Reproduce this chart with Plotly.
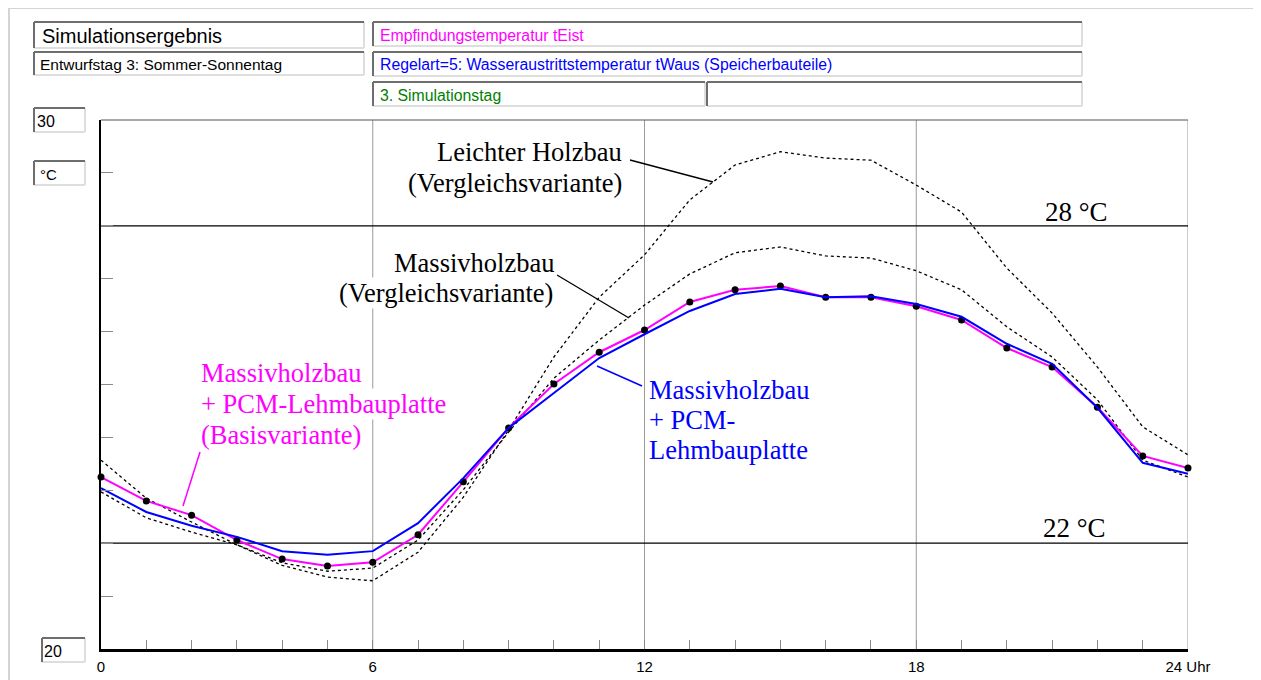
import plotly.graph_objects as go

# ---------------- data ----------------
hours = list(range(25))
x_tick_labels = ["0", "", "", "", "", "", "6", "", "", "", "", "", "12",
                 "", "", "", "", "", "18", "", "", "", "", "", "24 Uhr"]

# Massivholzbau + PCM-Lehmbauplatte (Basisvariante) - magenta with dots
pcm_basis = [23.25, 22.80, 22.53, 22.06, 21.70, 21.57, 21.64, 22.16, 23.16, 24.18,
             25.01, 25.61, 26.03, 26.56, 26.79, 26.86, 26.65, 26.65, 26.48, 26.22,
             25.69, 25.33, 24.57, 23.65, 23.42]
# Massivholzbau + PCM-Lehmbauplatte - blue
pcm_blue = [23.04, 22.59, 22.33, 22.12, 21.85, 21.78, 21.85, 22.38, 23.23, 24.18,
            24.84, 25.50, 25.95, 26.39, 26.71, 26.81, 26.65, 26.67, 26.52, 26.28,
            25.77, 25.39, 24.56, 23.52, 23.31]
# Massivholzbau (Vergleichsvariante) - dotted
massiv_vgl = [22.97, 22.48, 22.21, 21.97, 21.63, 21.47, 21.53, 22.06, 23.01, 24.10,
              25.12, 25.84, 26.50, 27.09, 27.49, 27.60, 27.43, 27.39, 27.15, 26.79,
              26.09, 25.52, 24.71, 23.57, 23.25]
# Leichter Holzbau (Vergleichsvariante) - dotted
leicht_vgl = [23.57, 22.85, 22.40, 21.97, 21.58, 21.36, 21.29, 21.83, 22.87, 24.14,
              25.52, 26.65, 27.45, 28.49, 29.15, 29.40, 29.28, 29.24, 28.77, 28.26,
              27.20, 26.35, 25.33, 24.20, 23.67]

limit_values = [22, 28]
grid_hours = [6, 12, 18, 24]

# ---------------- geometry helpers (pixel -> paper) ----------------
OFF = 8                      # default page body margin
W, H = 1261 - OFF, 680 - OFF
PX_L, PX_R, PY_T, PY_B = 101, 1188, 120, 649


def px(x):
    return (x - PX_L) / (PX_R - PX_L)


def py(y):
    return (PY_B - y) / (PY_B - PY_T)


shapes = []
annotations = []


def pline(x0, y0, x1, y1, color, width, layer="above"):
    shapes.append(dict(type="line", xref="paper", yref="paper",
                       x0=px(x0), y0=py(y0), x1=px(x1), y1=py(y1),
                       line=dict(color=color, width=width), layer=layer))


def sunken_box(x0, y0, x1, y1, text="", color="black", size=14, tx=None):
    shapes.append(dict(type="rect", xref="paper", yref="paper",
                       x0=px(x0), y0=py(y0), x1=px(x1), y1=py(y1),
                       fillcolor="white", line=dict(width=0), layer="above"))
    pline(x0, y1, x1, y1, "#dedede", 2)
    pline(x1, y0, x1, y1, "#dedede", 2)
    pline(x0, y0, x1, y0, "#6e6e6e", 2)
    pline(x0, y0, x0, y1, "#6e6e6e", 2)
    if text:
        annotations.append(dict(xref="paper", yref="paper",
                                x=px(tx if tx is not None else x0 + 6),
                                y=py((y0 + y1) / 2 + 1), text=text,
                                showarrow=False, xanchor="left", yanchor="middle",
                                font=dict(family="Liberation Sans, Arial", size=size,
                                          color=color)))


# outer light frame
shapes.append(dict(type="rect", xref="paper", yref="paper",
                   x0=px(9), y0=py(8), x1=px(1256), y1=py(700),
                   line=dict(color="#d4d4d4", width=2), layer="below"))

# vertical gridlines
for g in grid_hours:
    shapes.append(dict(type="line", xref="x", yref="paper", x0=g, x1=g, y0=0, y1=1,
                       line=dict(color="#9a9a9a", width=1), layer="below"))
# top border
shapes.append(dict(type="line", xref="paper", yref="paper", x0=0, x1=1, y0=1, y1=1,
                   line=dict(color="#555555", width=1), layer="below"))
# limit lines
for v in limit_values:
    shapes.append(dict(type="line", xref="paper", yref="y", x0=0, x1=1, y0=v, y1=v,
                       line=dict(color="black", width=1.3), layer="below"))

# header boxes
HS = 15.8
sunken_box(34, 22, 364, 48, "Simulationsergebnis", "black", 20, tx=40)
sunken_box(34, 52, 364, 75, "Entwurfstag 3: Sommer-Sonnentag", "black", 15.5, tx=38)
sunken_box(373, 22, 1082, 46, "Empfindungstemperatur tEist", "#ff00ff", HS, tx=378)
sunken_box(373, 52, 1082, 76, "Regelart=5: Wasseraustrittstemperatur tWaus (Speicherbauteile)",
           "#0000ff", HS, tx=378)
sunken_box(373, 82, 705, 106, "3. Simulationstag", "#008000", HS, tx=378)
sunken_box(707, 82, 1082, 106)
sunken_box(34, 108, 85, 132, "30", "black", 16, tx=35)
sunken_box(34, 161, 85, 185, "°C", "black", 15, tx=38)
sunken_box(42, 638, 85, 662, "20", "black", 16, tx=42)

# chart text annotations (serif), one per line
SERIF = "Liberation Serif, Times New Roman, serif"
FS = 26.5


def label(text, x, y, anchor, color, size=FS):
    annotations.append(dict(xref="paper", yref="paper", x=px(x), y=py(y), text=text,
                            showarrow=False, xanchor=anchor, yanchor="middle",
                            bgcolor="white", borderpad=0,
                            font=dict(family=SERIF, size=size, color=color)))


label("Leichter Holzbau", 623, 152, "right", "black")
label("(Vergleichsvariante)", 623, 183, "right", "black")
label("Massivholzbau", 555, 263, "right", "black")
label("(Vergleichsvariante)", 554, 293, "right", "black")
label("Massivholzbau", 200, 373, "left", "#ff00ff")
label("+ PCM-Lehmbauplatte", 200, 404, "left", "#ff00ff")
label("(Basisvariante)", 200, 435, "left", "#ff00ff")
label("Massivholzbau", 648, 390, "left", "#0000ff")
label("+ PCM-", 648, 420, "left", "#0000ff")
label("Lehmbauplatte", 648, 450, "left", "#0000ff")
annotations.append(dict(xref="paper", yref="paper", x=px(1076), y=py(212), text="28 °C",
                        showarrow=False, xanchor="center", yanchor="middle",
                        font=dict(family=SERIF, size=27, color="black")))
annotations.append(dict(xref="paper", yref="paper", x=px(1074), y=py(528), text="22 °C",
                        showarrow=False, xanchor="center", yanchor="middle",
                        font=dict(family=SERIF, size=27, color="black")))

# pointer lines
pline(630, 160, 713, 182, "black", 1.3)
pline(557, 275, 629, 318, "black", 1.3)
pline(200, 452, 183, 506, "#ff00ff", 1.5)
pline(642, 386, 597, 366, "#0000ff", 1.5)

fig = go.Figure()
fig.add_trace(go.Scatter(x=hours, y=leicht_vgl, mode="lines",
                         line=dict(color="black", width=1.3, dash="dot"),
                         showlegend=False, cliponaxis=False))
fig.add_trace(go.Scatter(x=hours, y=massiv_vgl, mode="lines",
                         line=dict(color="black", width=1.3, dash="dot"),
                         showlegend=False, cliponaxis=False))
fig.add_trace(go.Scatter(x=hours, y=pcm_basis, mode="lines+markers",
                         line=dict(color="#ff00ff", width=2),
                         marker=dict(color="black", size=7),
                         showlegend=False, cliponaxis=False))
fig.add_trace(go.Scatter(x=hours, y=pcm_blue, mode="lines",
                         line=dict(color="#0000ff", width=2),
                         showlegend=False, cliponaxis=False))

fig.update_layout(
    width=W, height=H, autosize=False,
    margin=dict(l=PX_L - OFF, r=W - (PX_R - OFF), t=PY_T - OFF, b=H - (PY_B - OFF), pad=0),
    paper_bgcolor="white", plot_bgcolor="white",
    shapes=shapes, annotations=annotations,
    xaxis=dict(range=[0, 24], tickvals=hours, ticktext=x_tick_labels,
               ticks="inside", ticklen=9, tickcolor="#8a8a8a", tickwidth=1,
               showline=True, linecolor="black", linewidth=3, automargin=False,
               showgrid=False, zeroline=False, ticklabelstandoff=2,
               tickfont=dict(family="Liberation Sans, Arial", size=15, color="black")),
    yaxis=dict(range=[20, 30], tickvals=list(range(20, 31)),
               ticks="inside", ticklen=12, tickcolor="#8a8a8a", tickwidth=1,
               showline=True, linecolor="black", linewidth=2, automargin=False,
               showgrid=False, zeroline=False, showticklabels=False),
)

fig.write_html("out.html")
